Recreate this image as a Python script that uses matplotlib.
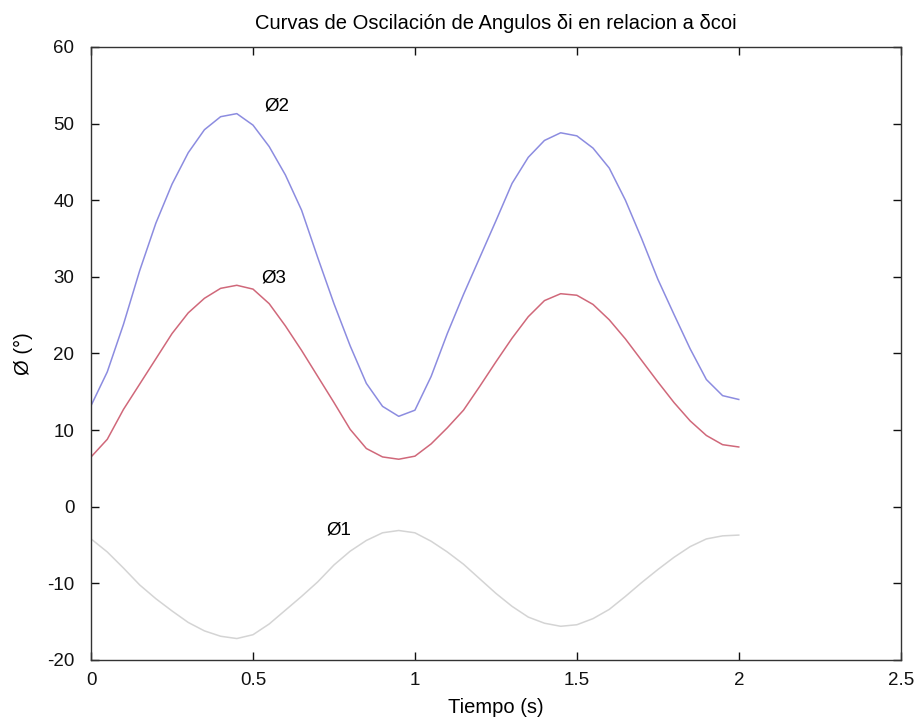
import numpy as np
import matplotlib
matplotlib.use("Agg")
import matplotlib.pyplot as plt

# time axis (s)
t = [0.00, 0.05, 0.10, 0.15, 0.20, 0.25, 0.30, 0.35, 0.40, 0.45,
     0.50, 0.55, 0.60, 0.65, 0.70, 0.75, 0.80, 0.85, 0.90, 0.95,
     1.00, 1.05, 1.10, 1.15, 1.20, 1.25, 1.30, 1.35, 1.40, 1.45,
     1.50, 1.55, 1.60, 1.65, 1.70, 1.75, 1.80, 1.85, 1.90, 1.95, 2.00]

# angles (deg)
phi2 = [13.2, 17.6, 23.8, 30.8, 37.0, 42.1, 46.2, 49.2, 50.9, 51.3,
        49.8, 47.0, 43.3, 38.7, 32.5, 26.5, 21.0, 16.1, 13.1, 11.8,
        12.6, 17.0, 22.6, 27.7, 32.5, 37.3, 42.2, 45.6, 47.8, 48.8,
        48.4, 46.8, 44.2, 40.0, 35.0, 29.7, 25.1, 20.6, 16.6, 14.5, 14.0]

phi3 = [6.5, 8.8, 12.7, 16.0, 19.3, 22.6, 25.3, 27.2, 28.5, 28.9,
        28.4, 26.5, 23.6, 20.4, 17.0, 13.6, 10.1, 7.6, 6.5, 6.2,
        6.6, 8.2, 10.3, 12.6, 15.7, 18.9, 22.0, 24.8, 26.9, 27.8,
        27.6, 26.4, 24.4, 21.9, 19.1, 16.3, 13.6, 11.2, 9.3, 8.1, 7.8]

phi1 = [-4.2, -5.9, -8.0, -10.2, -12.0, -13.6, -15.1, -16.2, -16.9, -17.2,
        -16.7, -15.3, -13.5, -11.7, -9.8, -7.6, -5.8, -4.4, -3.4, -3.1,
        -3.4, -4.5, -5.9, -7.5, -9.4, -11.3, -13.0, -14.4, -15.2, -15.6,
        -15.4, -14.6, -13.4, -11.7, -9.9, -8.2, -6.6, -5.2, -4.2, -3.8, -3.7]

plt.rcParams["font.family"] = ["Liberation Sans", "DejaVu Sans"]
plt.rcParams["axes.unicode_minus"] = False

fig = plt.figure(figsize=(9.2, 7.17), dpi=100)
ax = fig.add_axes([0.099, 0.0795, 0.880, 0.855])

ax.plot(t, phi2, color="#8c8ce0", lw=1.1)
ax.plot(t, phi3, color="#d0687a", lw=1.1)
ax.plot(t, phi1, color="#d4d4d4", lw=1.1)

ax.text(0.534, 52.3, "Ø2", fontsize=13.5, va="center")
ax.text(0.525, 29.9, "Ø3", fontsize=13.5, va="center")
ax.text(0.725, -3.0, "Ø1", fontsize=13.5, va="center")

ax.set_xlim(0, 2.5)
ax.set_ylim(-20, 60)
ax.set_xticks([0, 0.5, 1, 1.5, 2, 2.5])
ax.set_xticklabels(["0", "0.5", "1", "1.5", "2", "2.5"])
ax.set_yticks(range(-20, 61, 10))
ax.tick_params(direction="in", length=6, width=1, top=True, right=True,
               labelsize=13.5, colors="#111111")
ax.tick_params(axis="y", pad=12)
ax.tick_params(axis="x", pad=9)
for s in ax.spines.values():
    s.set_color("#333333")
    s.set_linewidth(1)

ax.set_title("Curvas de Oscilación de Angulos δi en relacion a δcoi",
             fontsize=14.5, pad=13)
ax.set_xlabel("Tiempo (s)", fontsize=14.5, labelpad=6)
ax.set_ylabel("Ø (°)", fontsize=14.5, labelpad=10)

fig.savefig("out.png", dpi=100)
